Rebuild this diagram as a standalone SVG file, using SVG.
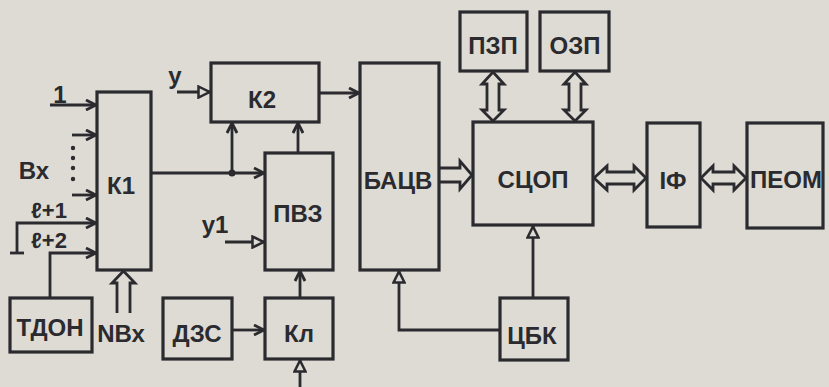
<svg xmlns="http://www.w3.org/2000/svg" width="829" height="387" viewBox="0 0 829 387">
<defs>
<style>
.bx{fill:none;stroke:#2a2a2f;stroke-width:3.2}
.ln{fill:none;stroke:#2a2a2f;stroke-width:2.8}
.wa{fill:#dddbd4;stroke:#2a2a2f;stroke-width:2.8;stroke-linejoin:miter}
.t{font-family:"Liberation Sans","DejaVu Sans",sans-serif;font-weight:bold;font-size:24px;fill:#2a2a2f;text-anchor:middle}
.s{font-size:22px}
</style>
<marker id="open" viewBox="0 0 12 12" refX="11" refY="6" markerWidth="12" markerHeight="12" markerUnits="userSpaceOnUse" orient="auto">
<path d="M1,1 L11,6 L1,11" fill="none" stroke="#2a2a2f" stroke-width="2.8"/>
</marker>
<marker id="tri" viewBox="0 0 14 14" refX="13" refY="7" markerWidth="14" markerHeight="14" markerUnits="userSpaceOnUse" orient="auto">
<path d="M1.5,1.5 L12.5,7 L1.5,12.5 Z" fill="#dddbd4" stroke="#2a2a2f" stroke-width="2.5"/>
</marker>
</defs>
<rect width="829" height="387" fill="#dddbd4"/>

<g id="connectors">
<line class="ln" x1="50" y1="105" x2="96" y2="105" marker-end="url(#open)"/>
<line class="ln" x1="72" y1="135" x2="96" y2="135" marker-end="url(#open)"/>
<line class="ln" x1="72" y1="195" x2="96" y2="195" marker-end="url(#open)"/>
<circle cx="73" cy="148" r="2.2" fill="#2a2a2f"/>
<circle cx="73" cy="158" r="2.2" fill="#2a2a2f"/>
<circle cx="73" cy="168" r="2.2" fill="#2a2a2f"/>
<circle cx="73" cy="179" r="2.2" fill="#2a2a2f"/>
<polyline class="ln" points="17,253 17,223 96,223" marker-end="url(#open)"/>
<line class="ln" x1="10" y1="253" x2="24" y2="253"/>
<polyline class="ln" points="50,298 50,253 96,253" marker-end="url(#open)"/>
<path class="wa" d="M117,313 L117,283 L112,283 L123.5,271 L135,283 L130,283 L130,313"/>
<line class="ln" x1="151" y1="173" x2="264" y2="173" marker-end="url(#open)"/>
<circle cx="232" cy="173" r="3.5" fill="#2a2a2f"/>
<line class="ln" x1="232" y1="173" x2="232" y2="123" marker-end="url(#open)"/>
<line class="ln" x1="298" y1="153" x2="298" y2="123" marker-end="url(#open)"/>
<line class="ln" x1="177" y1="92" x2="210" y2="92" marker-end="url(#tri)"/>
<line class="ln" x1="225" y1="242" x2="264" y2="242" marker-end="url(#tri)"/>
<line class="ln" x1="319" y1="93" x2="359" y2="93" marker-end="url(#open)"/>
<line class="ln" x1="232" y1="330" x2="264" y2="330" marker-end="url(#open)"/>
<line class="ln" x1="300" y1="298" x2="300" y2="271" marker-end="url(#open)"/>
<line class="ln" x1="300" y1="387" x2="300" y2="360" marker-end="url(#tri)"/>
<path class="wa" d="M439,168 L460,168 L460,161 L472,175 L460,189 L460,182 L439,182"/>
<path class="wa" d="M493,72 L504,84 L499,84 L499,110 L504,110 L493,121 L482,110 L487,110 L487,84 L482,84 Z"/>
<path class="wa" d="M575,72 L586,84 L581,84 L581,110 L586,110 L575,121 L564,110 L569,110 L569,84 L564,84 Z"/>
<path class="wa" d="M594,178 L607,166 L607,172 L634,172 L634,166 L646,178 L634,190 L634,184 L607,184 L607,190 Z"/>
<path class="wa" d="M701,178 L713,166 L713,172 L734,172 L734,166 L746,178 L734,190 L734,184 L713,184 L713,190 Z"/>
<line class="ln" x1="533" y1="298" x2="533" y2="226" marker-end="url(#tri)"/>
<polyline class="ln" points="500,330 399,330 399,271" marker-end="url(#tri)"/>
</g>

<g id="labels">
<text class="t" x="60" y="103">1</text>
<text class="t" x="34" y="179">Вх</text>
<text class="t s" x="49" y="218">ℓ+1</text>
<text class="t s" x="49" y="248">ℓ+2</text>
<text class="t" x="121" y="342">NВх</text>
<text class="t" x="175" y="84">у</text>
<text class="t" x="215" y="233">у1</text>
</g>

<g id="K1"><rect class="bx" x="97" y="92" width="54" height="178"/><text class="t" x="121" y="194">К1</text></g>
<g id="K2"><rect class="bx" x="211" y="63" width="108" height="59"/><text class="t" x="262" y="108">К2</text></g>
<g id="PVZ"><rect class="bx" x="265" y="153" width="68" height="117"/><text class="t" x="298" y="222">ПВЗ</text></g>
<g id="BACV"><rect class="bx" x="360" y="63" width="79" height="207"/><text class="t" x="398" y="189">БАЦВ</text></g>
<g id="PZP"><rect class="bx" x="460" y="12" width="67" height="59"/><text class="t" x="493" y="54">ПЗП</text></g>
<g id="OZP"><rect class="bx" x="540" y="12" width="69" height="59"/><text class="t" x="575" y="54">ОЗП</text></g>
<g id="SCOP"><rect class="bx" x="473" y="122" width="120" height="103"/><text class="t" x="533" y="188">СЦОП</text></g>
<g id="IF"><rect class="bx" x="647" y="123" width="53" height="104"/><text class="t" x="673" y="189">IФ</text></g>
<g id="PEOM"><rect class="bx" x="747" y="123" width="76" height="105"/><text class="t" x="786" y="188">ПЕОМ</text></g>
<g id="CBK"><rect class="bx" x="500" y="298" width="68" height="62"/><text class="t" x="532" y="344">ЦБК</text></g>
<g id="TDON"><rect class="bx" x="10" y="298" width="82" height="54"/><text class="t" x="50" y="336">ТДОН</text></g>
<g id="DZS"><rect class="bx" x="163" y="298" width="69" height="61"/><text class="t" x="197" y="342">ДЗС</text></g>
<g id="KL"><rect class="bx" x="265" y="298" width="68" height="61"/><text class="t" x="299" y="342">Кл</text></g>
</svg>
